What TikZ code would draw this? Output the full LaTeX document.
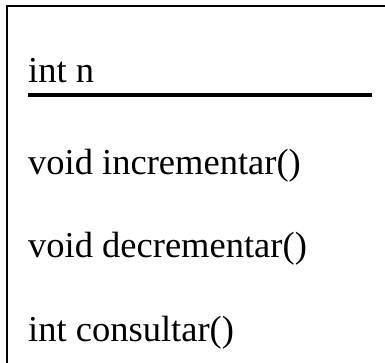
\documentclass[tikz,border=0pt]{standalone}
\usepackage{fontspec}
\setmainfont{Liberation Serif}
\begin{document}
\begin{tikzpicture}[x=1pt,y=-1pt,
  member/.style={anchor=base west,inner sep=0pt,font=\fontsize{36.5}{40}\selectfont},
  frame/.style={line width=2pt,black},
  rule/.style={line width=4pt,black}]
\useasboundingbox (0,0) rectangle (385,363);
\coordinate (tl) at (7,6);
\coordinate (tr) at (386,6);
\coordinate (bl) at (7,364);
\draw[frame] (tr) -- (tl) -- (bl);
\node[member] (attr) at (28,83) {int n};
\coordinate (rl) at (28,95.5);
\coordinate (rr) at (372,95.5);
\draw[rule] (rl) -- (rr);
\node[member] (m1) at (28,175) {void incrementar()};
\node[member] (m2) at (28,258) {void decrementar()};
\node[member] (m3) at (28,341) {int consultar()};
\end{tikzpicture}
\end{document}
